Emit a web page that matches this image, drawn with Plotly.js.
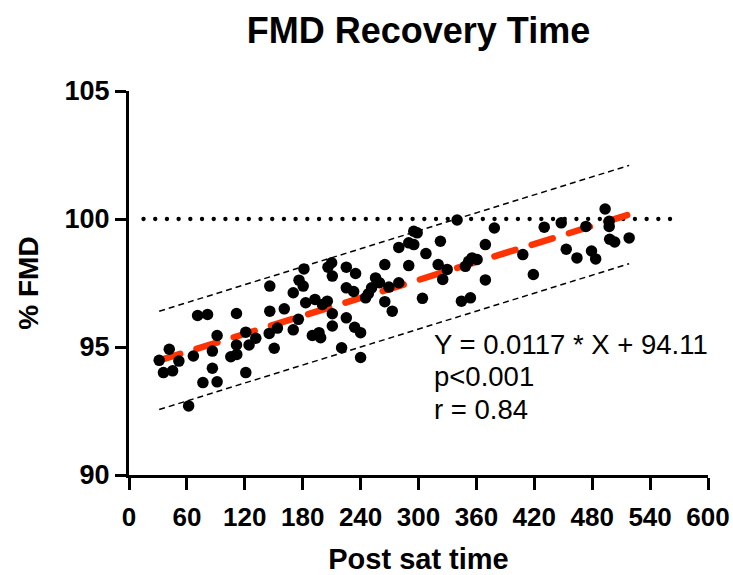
<!DOCTYPE html>
<html>
<head>
<meta charset="utf-8">
<script src="https://cdn.plot.ly/plotly-3.0.1.min.js"></script>
<style>
html,body{margin:0;padding:0;background:#fff;}
#chart{width:733px;height:575px;}
.scatterlayer .trace:nth-child(3) .js-line,
.scatterlayer .trace:nth-child(4) .js-line{stroke-linecap:round;}
</style>
</head>
<body>
<div id="chart"></div>
<script>
// Post sat time (x) and %FMD (y)
const postSatTime = [31.3,41.7,35.7,45.2,51.7,61.8,66.7,71.1,81.4,76.6,86.4,86.4,91.3,91.3,105.5,111.7,111.4,111.4,121.0,121.0,
  124.4,131.4,145.9,145.9,145.3,150.5,153.8,160.9,170.2,170.2,176.2,180.5,181.3,175.5,183.1,192.7,205.5,200.4,190.0,196.9,
  198.6,210.0,206.2,225.2,210.7,210.7,225.2,225.2,210.7,220.3,234.8,232.8,233.8,240.0,240.0,295.1,298.6,289.9,295.1,279.6,
  307.7,265.1,289.9,255.5,259.6,279.6,269.3,251.4,248.0,245.2,304.1,265.1,272.8,340.0,322.7,369.3,355.5,360.7,352.0,320.4,
  329.7,348.6,325.1,369.3,344.5,353.8,378.6,430.3,447.9,453.1,408.1,419.0,493.4,497.6,497.6,473.5,464.2,479.3,483.6,498.1,
  503.3,518.3];
const fmdPercent = [94.48,94.91,94.00,94.07,94.45,92.70,94.65,96.23,96.27,93.61,94.84,94.17,93.64,95.45,94.62,94.71,95.08,96.31,94.00,95.58,
  95.08,95.34,97.38,96.40,95.53,94.95,95.74,96.49,97.12,95.67,97.61,97.38,98.05,96.08,96.73,96.86,96.79,96.66,95.45,95.56,
  95.36,98.29,98.12,98.12,97.77,96.30,97.31,96.14,95.82,94.97,97.87,97.17,95.77,95.56,94.59,99.52,99.46,99.07,99.00,98.89,
  98.65,98.22,98.18,97.70,97.51,97.51,97.34,97.31,97.08,96.92,96.90,96.77,96.40,99.96,99.13,99.00,98.48,98.42,98.35,98.22,
  98.03,98.15,97.64,97.62,96.79,96.92,99.65,99.68,99.85,98.82,98.61,97.83,100.39,99.91,99.71,99.71,98.48,98.75,98.44,99.21,
  99.10,99.26];

// regression reported on the chart
const fitSlope = 0.0117;
const fitIntercept = 94.11;
const bandHalfWidth = 1.92;     // 95% prediction band half width
const referenceLevel = 100;     // dotted line
const referenceSpan = [15, 570];

const xTicks = [0,60,120,180,240,300,360,420,480,540,600];
const yTicks = [90,95,100,105];
const annotationLines = ['Y = 0.0117 * X + 94.11', 'p<0.001', 'r = 0.84'];
const annotationX = 314;
const annotationY = [95.1, 93.83, 92.57];

const xMin = Math.min(...postSatTime), xMax = Math.max(...postSatTime);
const fitX = [xMin, xMax];
const fitY = fitX.map(x => fitSlope * x + fitIntercept);
const upperY = fitY.map(y => y + bandHalfWidth);
const lowerY = fitY.map(y => y - bandHalfWidth);

const boldFont = {family: 'Liberation Sans, Arial, sans-serif', color: '#000', weight: 700};

const traces = [
  {x: fitX, y: upperY, mode: 'lines', line: {color: '#000', width: 1.5, dash: '6px,4px'}, hoverinfo: 'skip'},
  {x: fitX, y: lowerY, mode: 'lines', line: {color: '#000', width: 1.5, dash: '6px,4px'}, hoverinfo: 'skip'},
  {x: referenceSpan, y: referenceSpan.map(() => referenceLevel), mode: 'lines',
   line: {color: '#000', width: 4.3, dash: '0.1px,11.6px'}, hoverinfo: 'skip'},
  {x: fitX, y: fitY, mode: 'lines', line: {color: '#ff3300', width: 6.5, dash: '22px,17px'}, hoverinfo: 'skip'},
  {x: postSatTime, y: fmdPercent, mode: 'markers', marker: {color: '#000', size: 11.5}, cliponaxis: false}
];

const layout = {
  width: 733, height: 575,
  margin: {l: 129, r: 25, t: 91, b: 100},
  paper_bgcolor: '#fff', plot_bgcolor: '#fff',
  showlegend: false,
  title: {text: 'FMD Recovery Time', font: Object.assign({}, boldFont, {size: 36}),
          xref: 'paper', x: 0.5, xanchor: 'center', yref: 'container', y: 0.948, yanchor: 'middle'},
  xaxis: {
    range: [0, 600], tickmode: 'array', tickvals: xTicks, ticktext: xTicks.map(String),
    showline: true, linecolor: '#000', linewidth: 3,
    ticks: 'outside', ticklen: 12, tickwidth: 3, tickcolor: '#000',
    ticklabelstandoff: 5,
    showgrid: false, zeroline: false,
    tickfont: Object.assign({}, boldFont, {size: 26}),
    title: {text: 'Post sat time', font: Object.assign({}, boldFont, {size: 29}), standoff: 18},
    automargin: false
  },
  yaxis: {
    range: [90, 105], tickmode: 'array', tickvals: yTicks, ticktext: yTicks.map(String),
    showline: true, linecolor: '#000', linewidth: 3,
    ticks: 'outside', ticklen: 11, tickwidth: 3, tickcolor: '#000',
    showgrid: false, zeroline: false,
    tickfont: Object.assign({}, boldFont, {size: 27}),
    title: {text: '% FMD', font: Object.assign({}, boldFont, {size: 28}), standoff: 18},
    automargin: false
  },
  annotations: annotationLines.map((t, i) => ({
    xref: 'x', yref: 'y', x: annotationX, y: annotationY[i], xanchor: 'left', yanchor: 'middle',
    text: t, align: 'left', showarrow: false,
    font: {family: 'Liberation Sans, Arial, sans-serif', size: 27.5, color: '#000'}
  }))
};

Plotly.newPlot('chart', traces, layout, {staticPlot: true, displayModeBar: false});
</script>
</body>
</html>
